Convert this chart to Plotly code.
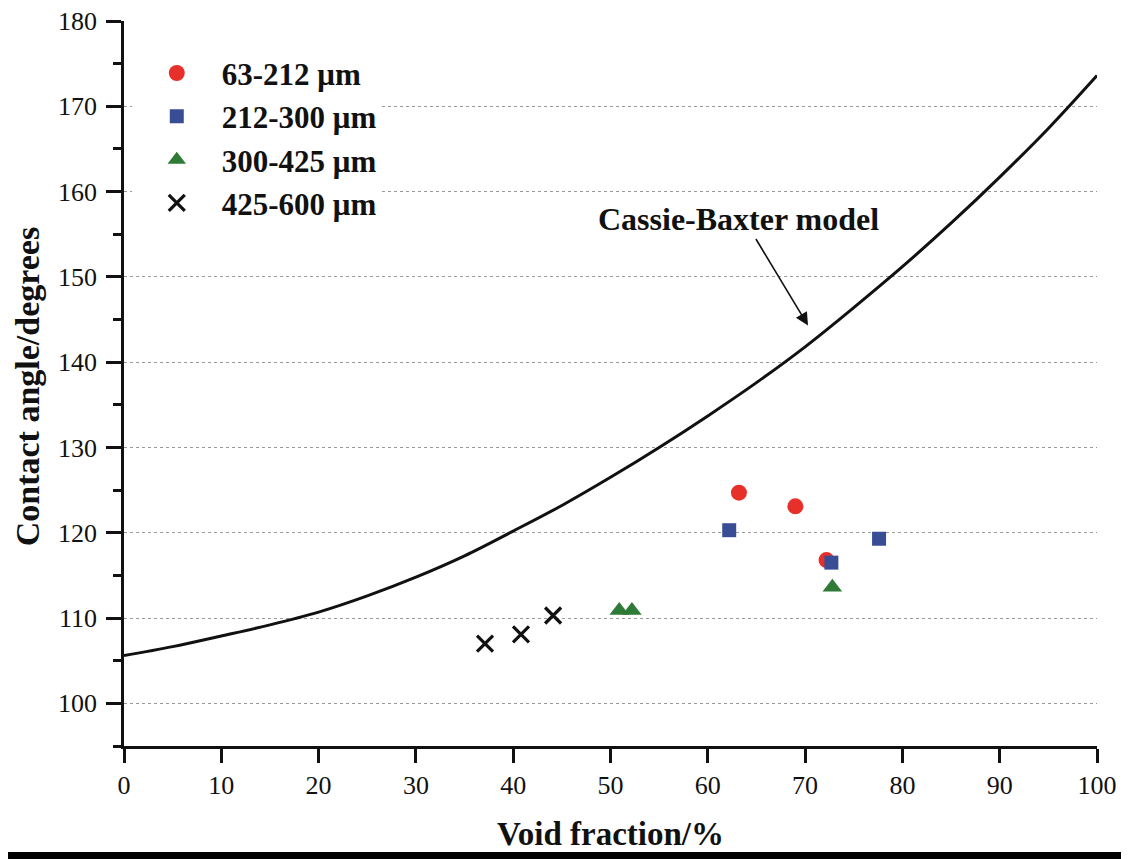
import plotly.graph_objects as go

# ---- data ----
curve_x = [0, 5, 10, 15, 20, 25, 30, 35, 40, 45, 50, 55, 60, 65, 70, 75, 80, 85, 90, 95, 100]
curve_y = [105.6, 106.65, 107.9, 109.2, 110.7, 112.6, 114.8, 117.3, 120.2, 123.2, 126.5,
           130.0, 133.7, 137.6, 141.8, 146.4, 151.2, 156.3, 161.7, 167.4, 173.6]

s1_name = "63-212 μm"
s1_x = [63.2, 69.0, 72.2]
s1_y = [124.7, 123.1, 116.8]

s2_name = "212-300 μm"
s2_x = [62.2, 72.7, 77.6]
s2_y = [120.3, 116.5, 119.3]

s3_name = "300-425 μm"
s3_x = [50.9, 52.2, 72.8]
s3_y = [110.9, 110.9, 113.6]

s4_name = "425-600 μm"
s4_x = [37.1, 40.8, 44.1]
s4_y = [107.0, 108.1, 110.3]

x_ticks = [0, 10, 20, 30, 40, 50, 60, 70, 80, 90, 100]
y_ticks = [100, 110, 120, 130, 140, 150, 160, 170, 180]
grid_vals = [100, 110, 120, 130, 140, 150, 160, 170]

label_pos = (63.2, 156.8)
arrow_point = (70.3, 144.3)

FONT = "Liberation Serif, Times New Roman, serif"

fig = go.Figure()

fig.add_trace(go.Scatter(x=curve_x, y=curve_y, mode="lines",
                         line=dict(color="#111111", width=3, shape="spline", smoothing=1.0),
                         showlegend=False, hoverinfo="skip"))

fig.add_trace(go.Scatter(x=s1_x, y=s1_y, mode="markers", name="<b>" + s1_name + "</b>",
                         marker=dict(symbol="circle", size=16, color="#E8302A")))
fig.add_trace(go.Scatter(x=s2_x, y=s2_y, mode="markers", name="<b>" + s2_name + "</b>",
                         marker=dict(symbol="square", size=14, color="#394D95")))
fig.add_trace(go.Scatter(x=s3_x, y=s3_y, mode="markers", name="<b>" + s3_name + "</b>",
                         marker=dict(symbol="triangle-up", size=17, color="#2E7A36")))
fig.add_trace(go.Scatter(x=s4_x, y=s4_y, mode="markers", name="<b>" + s4_name + "</b>",
                         marker=dict(symbol="x-thin", size=16, line=dict(color="#111111", width=3.2),
                                     color="#111111")))

# invisible trace that anchors the grid-only overlay axis
fig.add_trace(go.Scatter(x=[curve_x[0]], y=[curve_y[0]], yaxis="y2", mode="markers",
                         marker=dict(opacity=0), showlegend=False, hoverinfo="skip"))

fig.update_layout(
    width=1121, height=851,
    margin=dict(l=116, r=32, t=13, b=113, autoexpand=False),
    paper_bgcolor="white", plot_bgcolor="white",
    font=dict(family=FONT, color="#111111"),
    xaxis=dict(range=[0, 100], tickvals=x_ticks, showgrid=False, zeroline=False, automargin=False,
               showline=True, linecolor="#111111", linewidth=2.5,
               ticks="outside", ticklen=14, tickwidth=2.5, tickcolor="#111111",
               tickfont=dict(size=26, family=FONT), ticklabelstandoff=0, ticklabeloverflow="allow"),
    yaxis=dict(range=[95, 180], tickvals=y_ticks, showgrid=False, zeroline=False, automargin=False,
               showline=True, linecolor="#111111", linewidth=2.5,
               ticks="outside", ticklen=15, tickwidth=2.5, tickcolor="#111111",
               tickfont=dict(size=26, family=FONT), ticklabelstandoff=4, ticklabeloverflow="allow",
               minor=dict(dtick=5, tick0=95, ticks="outside", ticklen=8, tickwidth=2.5,
                          tickcolor="#111111", showgrid=False)),
    yaxis2=dict(range=[95, 180], overlaying="y", tickvals=grid_vals, showgrid=True, automargin=False,
                gridcolor="#9a9a9a", gridwidth=1, griddash="dot", showticklabels=False,
                ticks="", zeroline=False, showline=False, side="left"),
    legend=dict(x=0.008, y=0.965, xanchor="left", yanchor="top", bgcolor="white", borderwidth=0,
                font=dict(size=31, family=FONT), itemwidth=80, tracegroupgap=0),
)

fig.add_annotation(x=0.5, y=-0.122, xref="paper", yref="paper", text="<b>Void fraction/%</b>",
                   showarrow=False, font=dict(size=33, family=FONT), xanchor="center", yanchor="middle")
fig.add_annotation(x=-0.0995, y=0.495, xref="paper", yref="paper", text="<b>Contact angle/degrees</b>",
                   textangle=-90, showarrow=False, font=dict(size=34, family=FONT),
                   xanchor="center", yanchor="middle")

fig.add_annotation(x=label_pos[0], y=label_pos[1], xref="x", yref="y", text="<b>Cassie-Baxter model</b>",
                   showarrow=False, font=dict(size=32, family=FONT), xanchor="center", yanchor="middle")
fig.add_annotation(x=arrow_point[0], y=arrow_point[1], xref="x", yref="y", text="",
                   showarrow=True, ax=-53, ay=-88, arrowhead=2, arrowsize=1.6, arrowwidth=1.6,
                   arrowcolor="#111111")

# thick black bar at the very bottom of the figure
fig.add_shape(type="rect", xref="paper", yref="paper", x0=-0.1192, x1=1.033, y0=-0.1559, y1=-0.1462,
              fillcolor="#000000", line=dict(width=0), layer="above")

fig.write_html("out.html")
